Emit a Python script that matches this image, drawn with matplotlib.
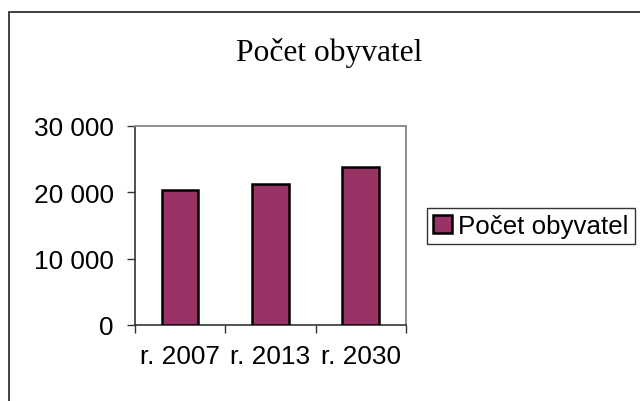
import matplotlib
matplotlib.use("Agg")
import matplotlib.pyplot as plt
from matplotlib.patches import Rectangle
from matplotlib.ticker import FuncFormatter, FixedLocator

# Data
categories = ["r. 2007", "r. 2013", "r. 2030"]
values = [20400, 21200, 23750]
series_name = "Počet obyvatel"
title = "Počet obyvatel"

W, H = 640, 402
fig = plt.figure(figsize=(W / 100, H / 100), dpi=100)
ax = fig.add_axes([134.7 / W, 1 - 326 / H, (406 - 134.7) / W, (326 - 127) / H])

x = range(len(categories))
ax.bar(x, values, width=0.405, color="#993366", edgecolor="black",
       linewidth=1.8, label=series_name, zorder=3)

ax.set_xlim(-0.5, len(categories) - 0.5)
ax.set_ylim(0, 30000)
ax.set_yticks([0, 10000, 20000, 30000])
ax.yaxis.set_major_formatter(FuncFormatter(lambda v, p: f"{int(v):,}".replace(",", " ")))
ax.set_xticks(list(x))
ax.set_xticklabels(categories)
ax.xaxis.set_minor_locator(FixedLocator([-0.5, 0.5, 1.5, 2.5]))

for t in ax.get_xticklabels() + ax.get_yticklabels():
    t.set_fontfamily("Liberation Sans")
    t.set_fontsize(18.9)
    t.set_color("black")

ax.tick_params(axis="y", direction="out", length=6, width=1, pad=9, color="#333333")
ax.tick_params(axis="x", which="major", length=0, pad=14)
ax.tick_params(axis="x", which="minor", direction="out", length=5.5, width=1, color="#333333")

for s in ["left", "bottom"]:
    ax.spines[s].set_color("#333333")
    ax.spines[s].set_linewidth(1.2)
for s in ["top", "right"]:
    ax.spines[s].set_color("#8c8c8c")
    ax.spines[s].set_linewidth(1.4)

fig.text(329 / W, 1 - 53 / H, title, ha="center", va="center",
         family="Liberation Serif", fontsize=22.7)

leg = fig.legend(loc="center left", bbox_to_anchor=(427 / W, 1 - 227 / H),
                 prop={"family": "Liberation Sans", "size": 18.6},
                 frameon=True, fancybox=False, edgecolor="black",
                 handlelength=0.7, handleheight=0.7, handletextpad=0.25,
                 borderpad=0.25, borderaxespad=0)
leg.get_frame().set_linewidth(1.0)

# outer chart border
fig.patches.append(Rectangle((8.5 / W, -0.1), 2, (H - 12.5) / H + 0.1,
                             transform=fig.transFigure, fill=False,
                             edgecolor="#333333", linewidth=1.3))

fig.savefig("out.png", dpi=100)
